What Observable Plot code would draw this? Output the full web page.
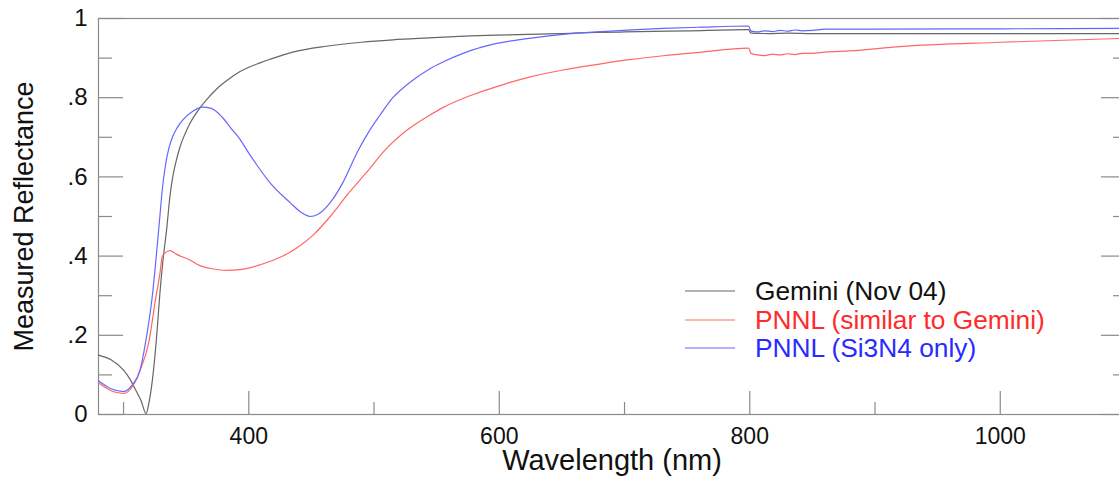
<!DOCTYPE html>
<html>
<head>
<meta charset="utf-8">
<script src="https://cdn.jsdelivr.net/npm/d3@7"></script>
<script src="https://cdn.jsdelivr.net/npm/@observablehq/plot@0.6"></script>
<style>
  html, body { margin: 0; padding: 0; background: #fff; }
  #wrap { position: relative; width: 1119px; height: 483px; overflow: hidden; font-family: "Liberation Sans", Arial, Helvetica, sans-serif; }
  #legend { position: absolute; left: 685px; top: 277px; font-size: 26.3px; line-height: 28.5px; }
  #legend .row { display: flex; align-items: center; white-space: nowrap; }
  #legend svg { margin-right: 20px; flex: none; }
</style>
</head>
<body>
<div id="wrap"><div id="chart"></div><div id="legend"></div></div>
<script>
// ---- data ----
const seriesNames = ["Gemini (Nov 04)", "PNNL (similar to Gemini)", "PNNL (Si3N4 only)"];
const lineColors = ["#666666", "#ff6666", "#6666ff"];
const textColors = ["#111111", "#ff2a2a", "#2a2aff"];

const geminiWl = [280,290,300,305,310,314,318,320,323,326.5,329,331.5,334.5,337,339,342,345,349,353,360,366,375,385,393,400,409,417,435,462,490,515,544,568,598,648,678,700,750,799,801,815,830,850,900,1000,1100];
const geminiR  = [.150,.138,.112,.090,.060,.035,.002,.025,.086,.200,.305,.390,.470,.550,.595,.640,.675,.708,.735,.770,.794,.824,.849,.866,.877,.888,.897,.915,.930,.940,.946,.951,.955,.958,.962,.965,.966,.969,.972,.963,.962,.963,.962,.962,.962,.962];

const pnnlWl = [280,290,300,307,313,320,326,329,331,334,337,342,353,361,371,382,393,411,425,438,452,465,480,495,508,528,544,555,571,582,598,608,624,651,680,704,731,758,799,801,806,812,818,824,830,836,842,850,860,880,920,1000,1100];
const pnnlR  = [.080,.060,.053,.070,.110,.180,.300,.355,.400,.410,.414,.405,.390,.376,.368,.364,.366,.380,.397,.420,.455,.500,.560,.615,.665,.722,.755,.775,.798,.811,.828,.838,.852,.870,.885,.896,.906,.914,.925,.912,.908,.906,.910,.908,.911,.909,.912,.912,.915,.918,.929,.940,.950];

const si3n4Wl = [280,290,300,307,313,318,323,327,329,331,333,336,339,343,347,355,363,370,379,386,393,400,406,417,433,442,449,455,465,475,487,497,505,515,528,544,555,571,598,624,651,678,731,760,799,801,806,812,818,824,830,836,842,850,860,870,900,1000,1100];
const si3n4R  = [.085,.065,.058,.075,.110,.190,.300,.430,.500,.570,.620,.670,.700,.725,.743,.765,.776,.773,.750,.722,.695,.660,.632,.585,.535,.510,.500,.505,.535,.585,.665,.720,.757,.800,.837,.872,.890,.912,.937,.950,.960,.966,.975,.978,.981,.968,.966,.969,.967,.970,.968,.971,.969,.970,.973,.973,.973,.974,.975];

const xMajor = [400, 600, 800, 1000];
const xMinor = [300, 500, 700, 900];
const xTickLabels = ["400", "600", "800", "1000"];
const yMajor = [0, 0.2, 0.4, 0.6, 0.8, 1];
const yMinor = [0.1, 0.3, 0.5, 0.7, 0.9];
const yTickLabels = ["0", ".2", ".4", ".6", ".8", "1"];
const xTitle = "Wavelength (nm)";
const yTitle = "Measured Reflectance";

// ---- build table ----
const rows = [];
[[geminiWl, geminiR], [pnnlWl, pnnlR], [si3n4Wl, si3n4R]].forEach(([wl, r], i) => {
  wl.forEach((w, j) => rows.push({series: seriesNames[i], wl: w, r: r[j]}));
});

const frameGray = "#8a8a8a";
const font = '"Liberation Sans", Arial, Helvetica, sans-serif';

const chart = Plot.plot({
  width: 1119,
  height: 483,
  marginLeft: 98,
  marginRight: -6,
  marginTop: 18,
  marginBottom: 69,
  style: {fontFamily: font, background: "#fff", color: "#111"},
  x: {domain: [280, 1100]},
  y: {domain: [0, 1]},
  color: {domain: seriesNames, range: lineColors},
  marks: [
    Plot.frame({stroke: frameGray, strokeWidth: 1.2}),
    // inward ticks
    Plot.axisX({ticks: xMajor, tickSize: -23, fill: "none", stroke: frameGray, strokeWidth: 1.2}),
    Plot.axisX({ticks: xMinor, tickSize: -12, fill: "none", stroke: frameGray, strokeWidth: 1.2}),
    Plot.axisY({ticks: yMajor, tickSize: -25, fill: "none", stroke: frameGray, strokeWidth: 1.2}),
    Plot.axisY({ticks: yMinor, tickSize: -14, fill: "none", stroke: frameGray, strokeWidth: 1.2}),
    Plot.axisY({anchor: "right", ticks: yMajor, tickSize: -25, fill: "none", stroke: frameGray, strokeWidth: 1.2}),
    Plot.axisY({anchor: "right", ticks: yMinor, tickSize: -13, fill: "none", stroke: frameGray, strokeWidth: 1.2}),
    // tick labels
    Plot.axisX({ticks: xMajor, tickSize: 0, tickPadding: 13, fontSize: 23, label: null,
      tickFormat: d => xTickLabels[xMajor.indexOf(d)]}),
    Plot.axisY({ticks: yMajor, tickSize: 0, tickPadding: 11, fontSize: 24, label: null,
      tickFormat: d => yTickLabels[yMajor.indexOf(d)]}),
    // axis titles
    Plot.text([xTitle], {frameAnchor: "bottom", dy: 55, fontSize: 29, text: d => d, fill: "#111"}),
    Plot.text([yTitle], {frameAnchor: "left", dx: -74, rotate: -90, textAnchor: "middle", fontSize: 27, text: d => d, fill: "#111"}),
    // data lines
    Plot.line(rows, {x: "wl", y: "r", z: "series", stroke: "series", strokeWidth: 1.2, curve: "monotone-x"})
  ]
});
document.getElementById("chart").appendChild(chart);

// legend inside plot area
const legend = document.getElementById("legend");
seriesNames.forEach((name, i) => {
  const row = document.createElement("div");
  row.className = "row";
  const svgNS = "http://www.w3.org/2000/svg";
  const sw = document.createElementNS(svgNS, "svg");
  sw.setAttribute("width", "50");
  sw.setAttribute("height", "4");
  const ln = document.createElementNS(svgNS, "line");
  ln.setAttribute("x1", "0"); ln.setAttribute("x2", "50");
  ln.setAttribute("y1", "2"); ln.setAttribute("y2", "2");
  ln.setAttribute("stroke", lineColors[i]);
  ln.setAttribute("stroke-width", "1.2");
  sw.appendChild(ln);
  const tx = document.createElement("span");
  tx.textContent = name;
  tx.style.color = textColors[i];
  row.appendChild(sw); row.appendChild(tx);
  legend.appendChild(row);
});
</script>
</body>
</html>
